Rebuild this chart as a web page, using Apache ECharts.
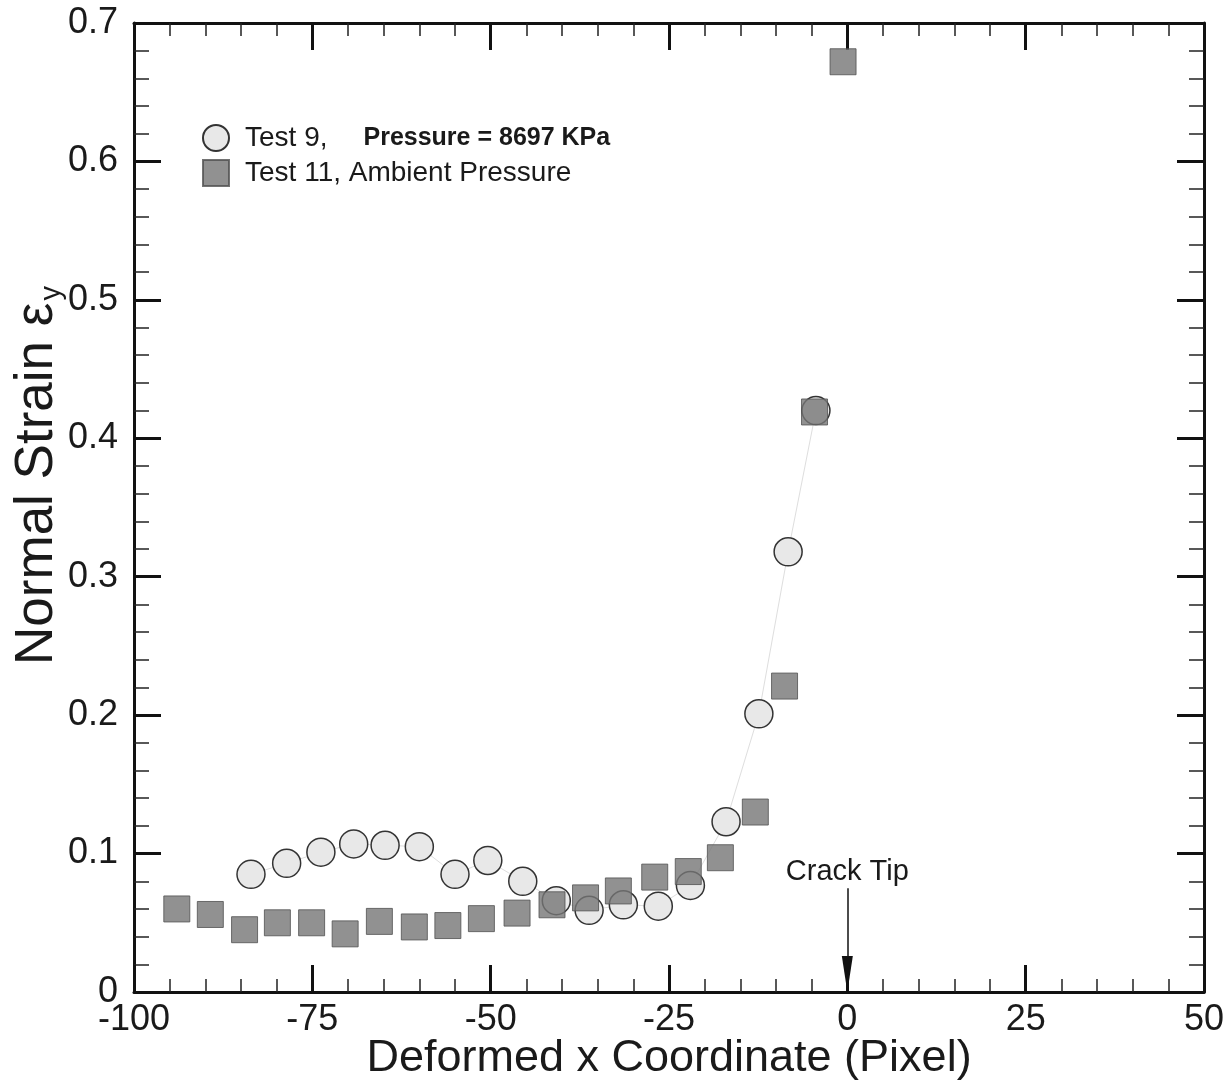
<!DOCTYPE html>
<html>
<head>
<meta charset="utf-8">
<script src="https://cdn.jsdelivr.net/npm/echarts@6/dist/echarts.min.js"></script>
<style>
  html, body { margin: 0; padding: 0; background: #fff; }
  #chart1 { width: 1228px; height: 1082px; }
</style>
</head>
<body>
<div id="chart1"></div>
<script>
// Test 9 (circles), Pressure = 8697 KPa
const test9X = [-83.6, -78.6, -73.8, -69.2, -64.8, -60.0, -55.0, -50.4, -45.5, -40.8, -36.2, -31.4, -26.5, -22.0, -17.0, -12.4, -8.3, -4.4];
const test9Y = [0.085, 0.093, 0.101, 0.107, 0.106, 0.105, 0.085, 0.095, 0.080, 0.066, 0.059, 0.063, 0.062, 0.077, 0.123, 0.201, 0.318, 0.420];

// Test 11 (squares), ambient pressure
const test11X = [-94.0, -89.3, -84.5, -79.9, -75.1, -70.4, -65.6, -60.7, -56.0, -51.3, -46.3, -41.4, -36.7, -32.1, -27.0, -22.3, -17.8, -12.9, -8.8, -4.6, -0.6];
const test11Y = [0.060, 0.056, 0.045, 0.050, 0.050, 0.042, 0.051, 0.047, 0.048, 0.053, 0.057, 0.063, 0.068, 0.073, 0.083, 0.087, 0.097, 0.130, 0.221, 0.419, 0.672];

const seriesNames = ['Test 9', 'Test 11, Ambient Pressure'];
const test9Note = 'Pressure = 8697 KPa';

// axes range
const xRange = [-100, 50, 25];
const yRange = [0, 0.7, 0.1];

// crack tip annotation (x, arrow start, arrow end)
const crackTip = [0, 0.075, 0];

const FONT = "'Liberation Sans', Arial, sans-serif";
const INK = '#1a1a1a';

const zip = (xs, ys) => xs.map((x, i) => [x, ys[i]]);

const makeX = (pos, showLabel) => ({
  type: 'value',
  position: pos,
  min: xRange[0],
  max: xRange[1],
  interval: xRange[2],
  name: showLabel ? 'Deformed x Coordinate (Pixel)' : '',
  nameLocation: 'middle',
  nameGap: 44,
  nameMoveOverlap: false,
  nameTextStyle: { fontFamily: FONT, fontSize: 45, color: INK },
  axisLine: { onZero: false, lineStyle: { color: '#111', width: 3 } },
  axisTick: { inside: true, length: 27, lineStyle: { color: '#111', width: 3 } },
  minorTick: { show: true, splitNumber: 5, length: 13, lineStyle: { color: '#222', width: 1.5 } },
  axisLabel: { show: showLabel, fontFamily: FONT, fontSize: 36, color: INK, margin: 10 },
  splitLine: { show: false }
});

const makeY = (pos, showLabel) => ({
  type: 'value',
  position: pos,
  min: yRange[0],
  max: yRange[1],
  interval: yRange[2],
  name: showLabel ? 'Normal Strain \u03b5{sub|y}' : '',
  nameLocation: 'middle',
  nameGap: 70,
  nameMoveOverlap: false,
  nameTextStyle: {
    fontFamily: FONT, fontSize: 53, color: INK,
    padding: [0, 0, 0, 64],
    rich: { sub: { fontFamily: FONT, fontSize: 29, color: INK, verticalAlign: 'bottom', padding: [0, 0, -2, 2] } }
  },
  axisLine: { onZero: false, lineStyle: { color: '#111', width: 3 } },
  axisTick: { inside: true, length: 27, lineStyle: { color: '#111', width: 3 } },
  minorTick: { show: true, splitNumber: 5, length: 15, lineStyle: { color: '#222', width: 1.5 } },
  axisLabel: { show: showLabel, fontFamily: FONT, fontSize: 36, color: INK, margin: 16 },
  splitLine: { show: false }
});

let chartDiv = document.getElementById('chart1');
let myChart = echarts.init(chartDiv, null, { renderer: 'canvas' });

let option = {
  backgroundColor: '#fff',
  animation: false,
  grid: { left: 134, right: 24, top: 23, bottom: 90, outerBoundsMode: 'none', containLabel: false },
  legend: {
    orient: 'vertical',
    left: 197,
    top: 119,
    itemWidth: 26,
    itemHeight: 26,
    itemGap: 7,
    data: [
      { name: seriesNames[0], icon: 'circle' },
      { name: seriesNames[1], icon: 'rect' }
    ],
    formatter: name => name === seriesNames[0] ? name + ',{b|' + test9Note + '}' : name,
    textStyle: {
      fontFamily: FONT, fontSize: 28, color: INK,
      padding: [0, 0, 0, 11],
      rich: { b: { fontFamily: FONT, fontSize: 25, fontWeight: 'bold', color: INK, padding: [0, 0, 0, 36] } }
    }
  },
  xAxis: [makeX('bottom', true), makeX('top', false)],
  yAxis: [makeY('left', true), makeY('right', false)],
  series: [
    {
      name: seriesNames[0],
      type: 'line',
      data: zip(test9X, test9Y),
      symbol: 'circle',
      symbolSize: 28,
      showAllSymbol: true,
      lineStyle: { color: '#dedede', width: 1 },
      itemStyle: { color: '#e8e8e8', borderColor: '#333', borderWidth: 1.5 },
      z: 2
    },
    {
      name: seriesNames[1],
      type: 'scatter',
      data: zip(test11X, test11Y),
      symbol: 'rect',
      symbolSize: 26,
      itemStyle: { color: '#767676', borderColor: '#505050', borderWidth: 1 },
      z: 3,
      markLine: {
        silent: true,
        symbol: ['none', 'triangle'],
        animation: false,
        lineStyle: { color: '#111', width: 1.5, type: 'solid' },
        label: { show: true, position: 'start', formatter: 'Crack Tip', fontFamily: FONT, fontSize: 29, color: INK, distance: 2 },
        data: [[
          { coord: [crackTip[0], crackTip[1]] },
          { coord: [crackTip[0], crackTip[2]], symbolSize: [11, 36], symbolOffset: [0, 18] }
        ]]
      }
    }
  ]
};

if (option && typeof option === 'object') {
  myChart.setOption(option);
}
</script>
</body>
</html>
